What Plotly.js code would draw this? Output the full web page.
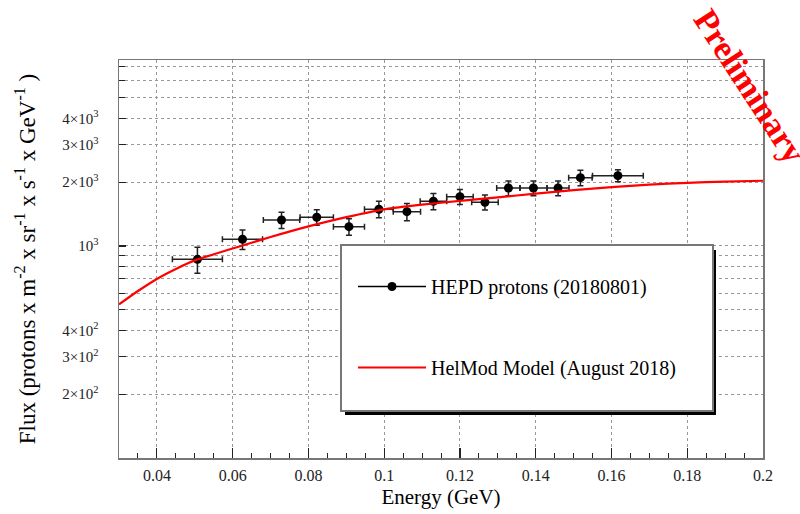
<!DOCTYPE html>
<html>
<head>
<meta charset="utf-8">
<script src="https://cdn.plot.ly/plotly-3.0.1.min.js"></script>
<style>html,body{margin:0;padding:0;background:#fff;}#chart{width:800px;height:514px;}</style>
</head>
<body>
<div id="chart"></div>
<script>
// HEPD proton data points
const energy    = [0.0507, 0.0626, 0.0729, 0.0822, 0.0907, 0.0986, 0.1060, 0.1130, 0.1200, 0.1266, 0.1328, 0.1394, 0.1459, 0.1518, 0.1617];
const flux      = [865, 1075, 1326, 1366, 1233, 1490, 1451, 1625, 1708, 1607, 1877, 1877, 1877, 2100, 2146];
const energyErr = [0.0066, 0.0053, 0.0048, 0.0044, 0.0041, 0.0038, 0.0036, 0.0035, 0.0035, 0.0035, 0.0031, 0.0036, 0.0029, 0.0031, 0.0067];
const fluxErr   = [121, 113, 117, 115, 110, 133, 135, 143, 138, 130, 150, 150, 150, 175, 140];

// HelMod model curve
const modelEnergy = [0.03, 0.035, 0.04, 0.045, 0.05, 0.06, 0.07, 0.08, 0.09, 0.10, 0.11, 0.12, 0.13, 0.14, 0.15, 0.16, 0.17, 0.18, 0.19, 0.20];
const modelFlux   = [530, 613, 699, 779, 855, 973, 1102, 1237, 1368, 1489, 1567, 1630, 1695, 1765, 1835, 1893, 1945, 1985, 2010, 2030];

// Y axis labelled ticks
const yTickVals = [200, 300, 400, 1000, 2000, 3000, 4000];
const yTickText = ['2×10<sup>2</sup>', '3×10<sup>2</sup>', '4×10<sup>2</sup>', '10<sup>3</sup>', '2×10<sup>3</sup>', '3×10<sup>3</sup>', '4×10<sup>3</sup>'];

const seriesNames = ['HEPD protons (20180801)', 'HelMod Model (August 2018)'];

const serif = 'Liberation Serif, Times New Roman, serif';

const traces = [
  {
    x: energy, y: flux, type: 'scatter', mode: 'markers',
    name: seriesNames[0], legendgroup: 'a',
    marker: {color: '#000', size: 9, symbol: 'circle'},
    error_x: {type: 'data', array: energyErr, visible: true, color: '#222', thickness: 1.5, width: 3},
    error_y: {type: 'data', array: fluxErr, visible: true, color: '#222', thickness: 1.5, width: 3},
    showlegend: false
  },
  // legend entry for the data series (line + marker symbol)
  {
    x: [null], y: [null], type: 'scatter', mode: 'lines+markers',
    name: seriesNames[0], legendgroup: 'a',
    line: {color: '#000', width: 1.5},
    marker: {color: '#000', size: 9},
    showlegend: true
  },
  {
    x: modelEnergy, y: modelFlux, type: 'scatter', mode: 'lines',
    name: seriesNames[1], legendgroup: 'b',
    line: {color: '#ff0000', width: 2.2, shape: 'spline', smoothing: 0.6},
    showlegend: true
  }
];

const L = 119, R = 763, T = 60, B = 458;
const px = v => (v - L) / (R - L);
const py = v => (B - v) / (B - T);

const layout = {
  width: 800, height: 514,
  margin: {l: 119, r: 37, t: 60, b: 56},
  paper_bgcolor: '#fff', plot_bgcolor: '#fff',
  font: {family: serif, color: '#000', size: 15},
  showlegend: true,
  legend: {
    x: px(353), y: py(267), xanchor: 'left', yanchor: 'top',
    bgcolor: 'rgba(0,0,0,0)', borderwidth: 0,
    font: {family: serif, size: 20, color: '#000'},
    traceorder: 'grouped', tracegroupgap: 52, itemwidth: 68
  },
  xaxis: {
    range: [0.03, 0.2],
    tickmode: 'linear', tick0: 0, dtick: 0.02,
    ticks: 'inside', ticklen: 10, tickwidth: 1.2, tickcolor: '#222',
    minor: {dtick: 0.005, tick0: 0, ticks: 'inside', ticklen: 5, tickwidth: 1, tickcolor: '#222', showgrid: false},
    showgrid: true, gridcolor: '#999', griddash: 'dot', gridwidth: 1,
    showline: true, linecolor: '#777', linewidth: 1.5, mirror: true,
    zeroline: false,
    tickfont: {family: serif, size: 16, color: '#222'},
    ticklabelstandoff: 2,
    title: {text: 'Energy (GeV)', font: {family: serif, size: 21, color: '#000'}, standoff: 6}
  },
  yaxis: {
    type: 'log', range: [2, 3.877],
    tickmode: 'array', tickvals: yTickVals, ticktext: yTickText,
    ticks: 'inside', ticklen: 7, tickwidth: 1.2, tickcolor: '#222',
    minor: {dtick: 'D1', ticks: 'inside', ticklen: 6, tickwidth: 1, tickcolor: '#222',
            showgrid: true, gridcolor: '#999', griddash: 'dot', gridwidth: 1},
    showgrid: true, gridcolor: '#999', griddash: 'dot', gridwidth: 1,
    showline: true, linecolor: '#777', linewidth: 1.5, mirror: true,
    zeroline: false,
    tickfont: {family: serif, size: 15, color: '#222'},
    ticklabelstandoff: 16,
    title: {text: 'Flux (protons x m<sup>-2</sup> x sr<sup>-1</sup> x s<sup>-1</sup> x GeV<sup>-1</sup> )', font: {family: serif, size: 23, color: '#000'}, standoff: 20}
  },
  shapes: [
    {type: 'rect', xref: 'paper', yref: 'paper', x0: px(345), x1: px(716), y0: py(415), y1: py(250),
     fillcolor: '#000', line: {width: 0}, layer: 'above'},
    {type: 'rect', xref: 'paper', yref: 'paper', x0: px(341), x1: px(713), y0: py(411), y1: py(245),
     fillcolor: '#fff', line: {color: '#777', width: 2}, layer: 'above'}
  ],
  annotations: [
    {text: '<b>Preliminary</b>', xref: 'paper', yref: 'paper', x: px(749), y: py(86),
     xanchor: 'center', yanchor: 'middle', showarrow: false, textangle: 57,
     font: {family: serif, size: 34, color: '#ff0000'}}
  ]
};

Plotly.newPlot('chart', traces, layout, {displayModeBar: false, staticPlot: true});
</script>
</body>
</html>
